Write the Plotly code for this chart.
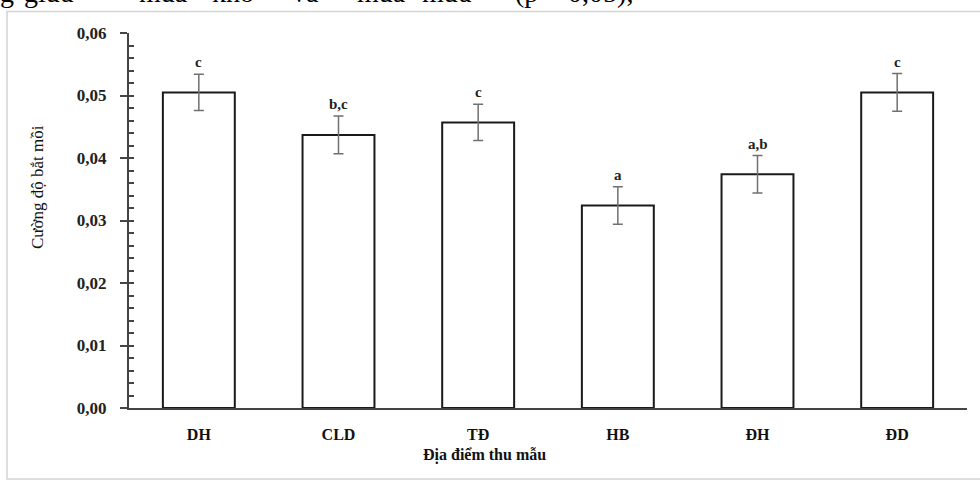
import plotly.graph_objects as go

# ---- data ----
sites = ["DH", "CLD", "TĐ", "HB", "ĐH", "ĐD"]
values = [0.0505, 0.0437, 0.0457, 0.0324, 0.0374, 0.0505]
errors = [0.0029, 0.0030, 0.0029, 0.0030, 0.0030, 0.0030]
letters = ["c", "b,c", "c", "a", "a,b", "c"]
y_ticks = [0.00, 0.01, 0.02, 0.03, 0.04, 0.05, 0.06]

# header text fragment (cut off at the top of the screenshot)
header_words = ["g", "giữa", "mùa", "khô", "và", "mùa", "mưa", "(p < 0,05),"]
header_x = [-2, 22, 137, 210, 290, 355, 420, 513]

W, H = 980, 482
L, R, T, B = 129, 13, 33, 74
PW, PH = W - L - R, H - T - B
SERIF = "Liberation Serif, Times New Roman, serif"


def xp(px):
    return (px - L) / PW


def yp(py):
    return (H - B - py) / PH


fig = go.Figure()
fig.add_trace(go.Bar(
    x=sites, y=values,
    marker=dict(color="white", line=dict(color="#1a1a1a", width=2)),
    error_y=dict(type="data", array=errors, visible=True,
                 color="#707070", thickness=1.5, width=5),
    width=0.515, showlegend=False,
))
# invisible trace to carry the secondary (minor tick) y axis
fig.add_trace(go.Scatter(x=sites, y=values, yaxis="y2", mode="markers",
                         marker=dict(opacity=0), showlegend=False, hoverinfo="skip"))

annotations = []
for s, v, e, lab in zip(sites, values, errors, letters):
    annotations.append(dict(x=s, y=v + e, xref="x", yref="y", text=lab,
                            showarrow=False, yanchor="bottom", yshift=2,
                            font=dict(family=SERIF, size=15, color="#222", weight="bold")))

annotations.append(dict(x=xp(38), y=yp(187), xref="paper", yref="paper",
                        text="Cường độ bắt mồi", textangle=-90, showarrow=False,
                        xanchor="center", yanchor="middle",
                        font=dict(family=SERIF, size=17, color="#111")))

annotations.append(dict(x=xp(484), y=yp(455), xref="paper", yref="paper",
                        text="Địa điểm thu mẫu", showarrow=False,
                        xanchor="center", yanchor="middle",
                        font=dict(family=SERIF, size=16, color="#111", weight="bold")))

for w, x in zip(header_words, header_x):
    annotations.append(dict(x=xp(x), y=yp(-8), xref="paper", yref="paper",
                            text=w, showarrow=False, xanchor="left", yanchor="middle",
                            font=dict(family=SERIF, size=28, color="black")))

fig.update_layout(
    width=W, height=H,
    margin=dict(l=L, r=R, t=T, b=B),
    paper_bgcolor="white", plot_bgcolor="white",
    separators=", ",
    bargap=0.485,
    xaxis=dict(
        range=[-0.5, 5.5], showgrid=False, showline=True, linecolor="#444", linewidth=2,
        ticks="", ticklabelstandoff=11,
        tickfont=dict(family=SERIF, size=16, color="#111", weight="bold"),
    ),
    yaxis=dict(
        range=[0, 0.06], tickvals=y_ticks, tickformat=".2f",
        showgrid=False, zeroline=False, showline=True, linecolor="#444", linewidth=2,
        ticks="outside", ticklen=7, tickwidth=2, tickcolor="#444",
        ticklabelstandoff=10,
        tickfont=dict(family=SERIF, size=17, color="#222", weight="bold"),
    ),
    yaxis2=dict(
        overlaying="y", side="left", range=[0, 0.06], dtick=0.002, tick0=0,
        showgrid=False, zeroline=False, showline=False, showticklabels=False,
        ticks="inside", ticklen=5, tickwidth=1.5, tickcolor="#444",
    ),
    annotations=annotations,
    shapes=[dict(type="rect", xref="paper", yref="paper",
                 x0=xp(7), x1=xp(1000), y0=yp(479), y1=yp(11.5),
                 line=dict(color="#d4d4d4", width=1.5), layer="below")],
)

fig.write_html("out.html")
